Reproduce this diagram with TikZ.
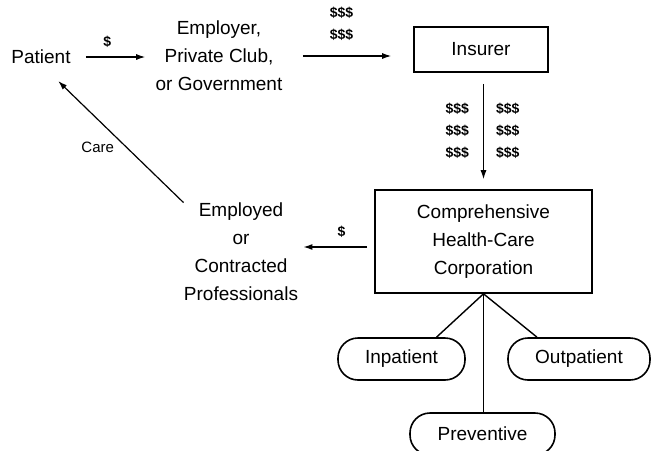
\documentclass[tikz,border=0pt]{standalone}
\usepackage{fontspec}
\setmainfont{Liberation Sans}
\usetikzlibrary{arrows.meta}
\newcommand{\partySty}{\fontsize{9.5}{14}\selectfont}
\newcommand{\moneySty}{\fontsize{7}{11}\selectfont\bfseries}
\newcommand{\careSty}{\fontsize{7.5}{9}\selectfont}
\tikzset{
  party/.style={inner sep=0pt, align=center, font=\partySty},
  firmbox/.style={draw, line width=0.8pt, inner sep=0pt, align=center, font=\partySty},
  unitbox/.style={draw, line width=0.8pt, rounded corners=10pt, minimum height=21pt, inner sep=0pt, font=\partySty},
  money/.style={inner sep=0pt, align=center, font=\moneySty},
  flow/.style={line width=0.6pt, -{Latex[length=4.5pt,width=3pt]}},
  link/.style={line width=0.7pt},
}

\begin{document}
\begin{tikzpicture}[x=0.5pt, y=-0.5pt]

	% page
	\useasboundingbox (0,0) rectangle (651,450);
	\clip (0,0) rectangle (651,450);

	% parties
	\node[party] (patient) at (41,57) {Patient};
	\node[party] (employer) at (219,56) {Employer,\\Private Club,\\or Government};
	\node[party] (staff) at (241,252) {Employed\\or\\Contracted\\Professionals};

	% insurer and corporation
	\node[firmbox, minimum width=67pt, minimum height=22.5pt] (insurer) at (481,49.5) {Insurer};
	\node[firmbox, minimum width=108.5pt, minimum height=51.5pt] (chcc) at (483.5,241.5) {Comprehensive\\Health-Care\\Corporation};

	% units
	\node[unitbox, minimum width=63.5pt] (inpatient) at (401.5,359) {Inpatient};
	\node[unitbox, minimum width=71pt] (outpatient) at (579,359) {Outpatient};
	\node[unitbox, minimum width=72.5pt] (preventive) at (482.5,434) {Preventive};

	% money flows
	\draw[flow, shorten <=7.5pt, shorten >=5pt] (patient.east) -- (patient.east -| employer.west)
		node[money, pos=0.43, above=4.5pt] {\$};
	\draw[flow, shorten <=10pt, shorten >=11pt] (employer.east) -- (employer.east -| insurer.west)
		node[money, pos=0.45, above=7.5pt] {\$\$\$\\\$\$\$};
	\draw[flow, shorten <=5.5pt, shorten >=5pt] (insurer.south -| chcc.north) -- (chcc.north)
		node[money, midway, left=7pt] {\$\$\$\\\$\$\$\\\$\$\$}
		node[money, midway, right=6pt] {\$\$\$\\\$\$\$\\\$\$\$};
	\draw[flow, shorten <=3.5pt, shorten >=2.5pt] ([yshift=-2.75pt]chcc.west) -- ([yshift=-2.75pt]chcc.west -| staff.east)
		node[money, pos=0.43, above=4.5pt] {\$};

	% care
	\draw[flow, shorten >=12pt] (staff.north west) -- (patient.south)
		node[inner sep=0pt, font=\careSty, pos=0.4, left=6pt] {Care};

	% units of the corporation
	\draw[link] (chcc.south) -- ([xshift=17.5pt]inpatient.north);
	\draw[link] (chcc.south) -- ([xshift=-21pt]outpatient.north);
	\draw[link] (chcc.south) -- (chcc.south |- preventive.north);

\end{tikzpicture}
\end{document}
